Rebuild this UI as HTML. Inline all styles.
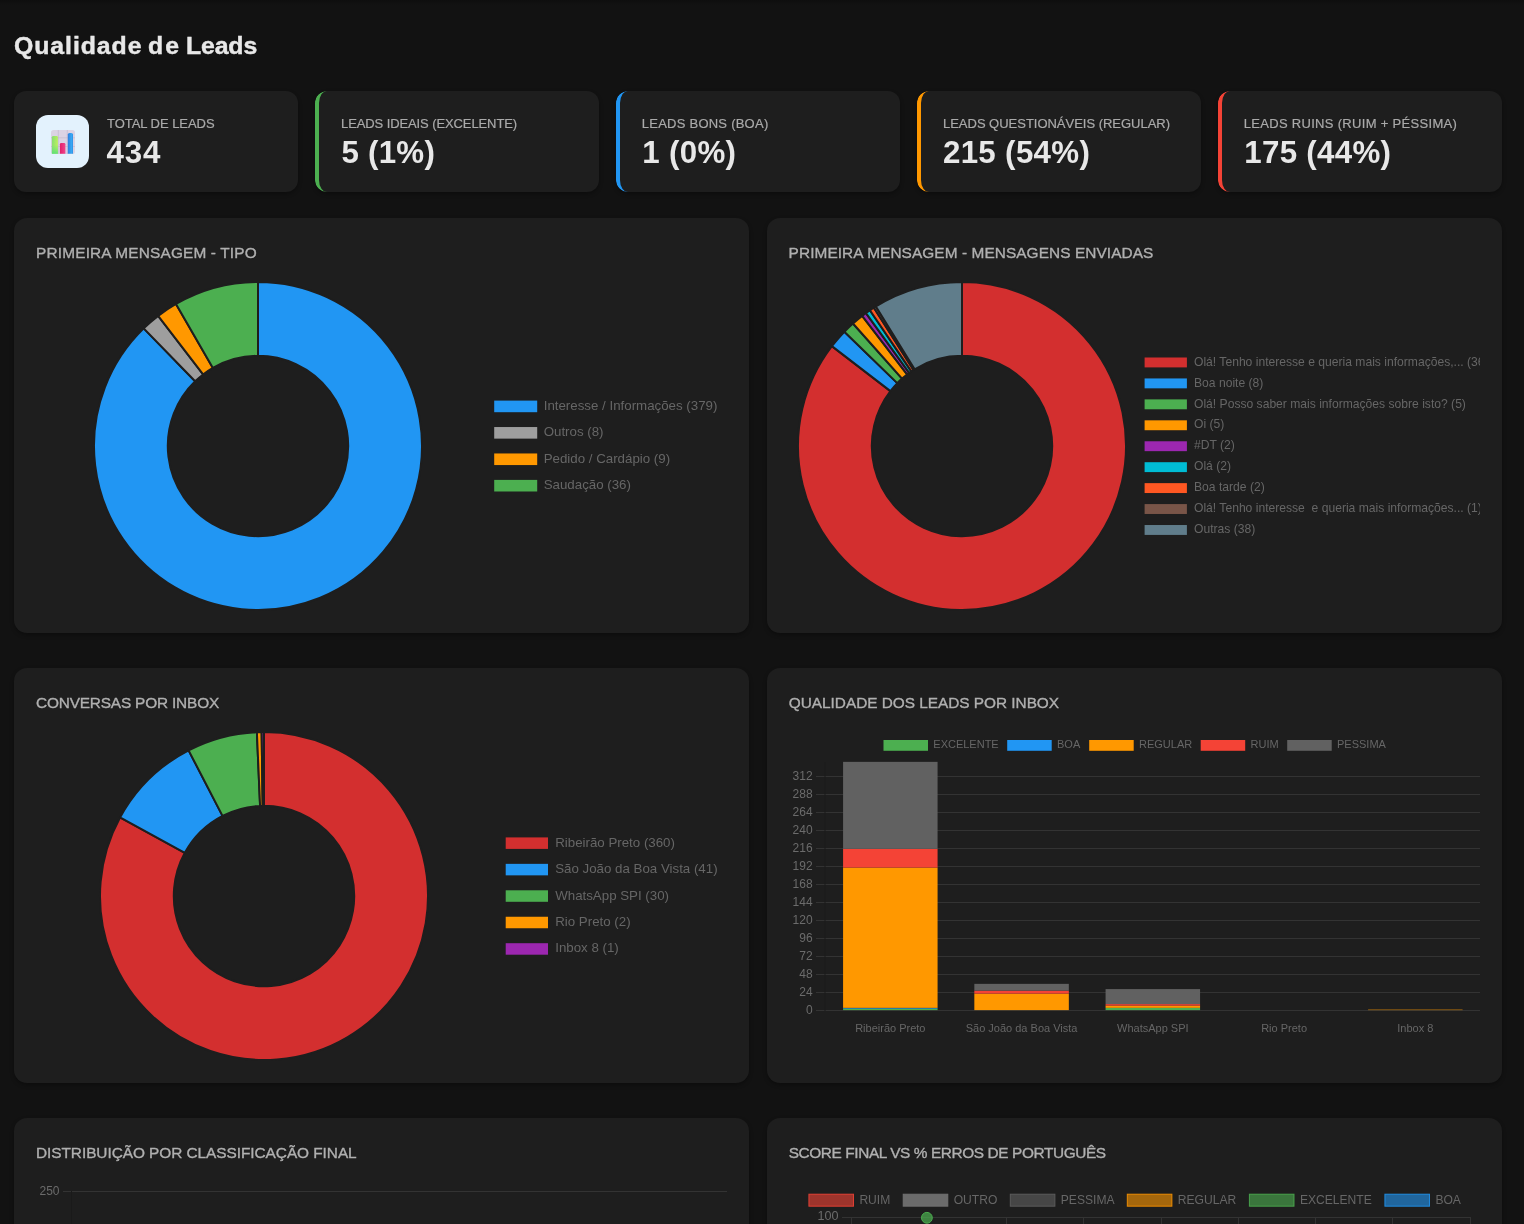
<!DOCTYPE html>
<html lang="pt-BR"><head><meta charset="utf-8"><title>Qualidade de Leads</title>
<style>
*{box-sizing:border-box}
html,body{margin:0;padding:0}
body{width:1524px;height:1224px;overflow:hidden;background:#121212;color:#e6e6e6;font-family:"Liberation Sans",sans-serif;position:relative}
.topshade{position:absolute;left:0;top:0;width:1524px;height:5px;background:linear-gradient(#0e0e0e,#121212)}
h1{position:absolute;left:0;top:35.06px;margin:0;font-size:23.2px;line-height:1;font-weight:700;color:#e8e8e8;white-space:nowrap;-webkit-text-stroke:.4px #e8e8e8}
h1 span{position:absolute;top:0;transform:scaleX(1.07);transform-origin:0 0}
.stat{position:absolute;top:91px;height:100.8px;width:283.8px;background:#1e1e1e;border-radius:12px;box-shadow:0 2px 4px rgba(0,0,0,.3);overflow:hidden}
.stat .bar{position:absolute;left:0;top:0;bottom:0;width:16px;border-left:4.2px solid;border-radius:12px 0 0 12px}
.lab{position:absolute;top:117.1px;margin:0;font-size:13px;line-height:1;color:#aaa;white-space:nowrap;-webkit-text-stroke:.2px #aaa}
.val{position:absolute;top:136.8px;margin:0;font-size:31.3px;line-height:1;font-weight:700;color:#e8e8e8;white-space:nowrap}
.ico{position:absolute;left:21.9px;top:23.6px;width:53.4px;height:53.6px;border-radius:12px;background:#e3f2fd}
.ico svg{position:absolute;left:15px;top:15.4px}
.card{position:absolute;width:735px;height:415.2px;background:#1e1e1e;border-radius:13px;box-shadow:0 2px 4px rgba(0,0,0,.3);overflow:hidden}
h3{position:absolute;margin:0;font-size:15.4px;line-height:1;font-weight:400;color:#b0b0b0;white-space:nowrap;-webkit-text-stroke:.35px #b0b0b0}
.card svg{position:absolute;left:22px;top:64.2px;font-family:"Liberation Sans",sans-serif}
</style></head><body>
<div class="topshade"></div>
<h1><span style="left:13.7px;letter-spacing:0.88px">Qualidade</span> <span style="left:147.6px;letter-spacing:2.0px">de</span> <span style="left:185.7px;letter-spacing:-0.12px">Leads</span></h1>
<div class="stat" style="left:14.1px">
<div class="ico"><svg width="24" height="24" viewBox="0 0 24 24">
<defs>
<linearGradient id="g1" x1="0" y1="0" x2="1" y2="0.25"><stop offset="0" stop-color="#86dc74"/><stop offset="1" stop-color="#b9f05e"/></linearGradient>
<linearGradient id="g1b" x1="0" y1="0" x2="0" y2="1"><stop offset="0.5" stop-color="#5fe07a" stop-opacity="0"/><stop offset="1" stop-color="#58e07a" stop-opacity=".9"/></linearGradient>
<linearGradient id="g2" x1="0" y1="0" x2="1" y2="0"><stop offset="0" stop-color="#e0206a"/><stop offset="1" stop-color="#f2458c"/></linearGradient>
<linearGradient id="g3" x1="0" y1="0" x2="1" y2="0"><stop offset="0" stop-color="#2f7fe0"/><stop offset="0.7" stop-color="#38a8f2"/><stop offset="1" stop-color="#2f8fe6"/></linearGradient>
</defs>
<rect x="0" y="0" width="24" height="24" rx="2.6" fill="#dbd3e4"/>
<path d="M7.3 0V24M16.3 0V24M0 7.8H24M0 16.5H24" stroke="#bdb2c8" stroke-width="0.55" fill="none"/>
<path d="M0.9 23.8V7.3Q0.9 5.9 2.3 5.9H5.5Q6.9 5.9 6.9 7.3V23.8Z" fill="url(#g1)"/>
<path d="M0.9 23.8V7.3Q0.9 5.9 2.3 5.9H5.5Q6.9 5.9 6.9 7.3V23.8Z" fill="url(#g1b)"/>
<path d="M8.9 23.8V14.2Q8.9 12.9 10.2 12.9H13.1Q14.4 12.9 14.4 14.2V23.8Z" fill="url(#g2)"/>
<path d="M16.8 23.8V4.6Q16.8 2.9 18.5 2.9H20.3Q22 2.9 22 4.6V23.8Z" fill="url(#g3)"/>
</svg></div>
</div>
<p class="lab" style="left:107.0px;letter-spacing:-0.04px">TOTAL DE LEADS</p><p class="val" style="left:106.4px;letter-spacing:0.86px">434</p>
<div class="stat" style="left:315.1px">
<div class="bar" style="border-color:#4caf50"></div>
</div>
<p class="lab" style="left:341.0px;letter-spacing:-0.1px">LEADS IDEAIS (EXCELENTE)</p><p class="val" style="left:341.4px;letter-spacing:0.26px">5 (1%)</p>
<div class="stat" style="left:616.1px">
<div class="bar" style="border-color:#2196f3"></div>
</div>
<p class="lab" style="left:641.8px;letter-spacing:0.24px">LEADS BONS (BOA)</p><p class="val" style="left:642.2px;letter-spacing:0.33px">1 (0%)</p>
<div class="stat" style="left:917.1px">
<div class="bar" style="border-color:#ff9800"></div>
</div>
<p class="lab" style="left:943.0px;letter-spacing:-0.02px">LEADS QUESTIONÁVEIS (REGULAR)</p><p class="val" style="left:942.9px;letter-spacing:0.33px">215 (54%)</p>
<div class="stat" style="left:1218.1px">
<div class="bar" style="border-color:#f44336"></div>
</div>
<p class="lab" style="left:1243.7px;letter-spacing:0.31px">LEADS RUINS (RUIM + PÉSSIMA)</p><p class="val" style="left:1244.3px;letter-spacing:0.29px">175 (44%)</p>
<div class="card" style="left:14px;top:217.8px">
<svg width="691" height="330" viewBox="0 0 691 330">
<path d="M222.00 0.00A164 164 0 1 1 107.73 46.36L159.15 99.30A90.2 90.2 0 1 0 222.00 73.80Z" fill="#2196f3" stroke="#1e1e1e" stroke-width="2" stroke-linejoin="bevel"/>
<path d="M107.73 46.36A164 164 0 0 1 122.16 33.89L167.09 92.44A90.2 90.2 0 0 0 159.15 99.30Z" fill="#9e9e9e" stroke="#1e1e1e" stroke-width="2" stroke-linejoin="bevel"/>
<path d="M122.16 33.89A164 164 0 0 1 140.00 21.97L176.90 85.88A90.2 90.2 0 0 0 167.09 92.44Z" fill="#ff9800" stroke="#1e1e1e" stroke-width="2" stroke-linejoin="bevel"/>
<path d="M140.00 21.97A164 164 0 0 1 222.00 0.00L222.00 73.80A90.2 90.2 0 0 0 176.90 85.88Z" fill="#4caf50" stroke="#1e1e1e" stroke-width="2" stroke-linejoin="bevel"/><rect x="458.20" y="118.60" width="43" height="11.6" fill="#2196f3"/>
<text x="507.70" y="128.10" font-size="13.3" fill="#666" xml:space="preserve">Interesse / Informações (379)</text>
<rect x="458.20" y="145.03" width="43" height="11.6" fill="#9e9e9e"/>
<text x="507.70" y="154.10" font-size="13.3" fill="#666" xml:space="preserve">Outros (8)</text>
<rect x="458.20" y="171.46" width="43" height="11.6" fill="#ff9800"/>
<text x="507.70" y="180.80" font-size="13.3" fill="#666" xml:space="preserve">Pedido / Cardápio (9)</text>
<rect x="458.20" y="197.89" width="43" height="11.6" fill="#4caf50"/>
<text x="507.70" y="207.00" font-size="13.3" fill="#666" xml:space="preserve">Saudação (36)</text>
</svg></div>
<h3 style="left:36.1px;top:244.50px;letter-spacing:0.16px">PRIMEIRA MENSAGEM - TIPO</h3>
<div class="card" style="left:767px;top:217.8px">
<svg width="691" height="330" viewBox="0 0 691 330">
<path d="M173.00 0.00A164 164 0 1 1 42.89 64.16L101.44 109.09A90.2 90.2 0 1 0 173.00 73.80Z" fill="#d32f2f" stroke="#1e1e1e" stroke-width="2" stroke-linejoin="bevel"/>
<path d="M42.89 64.16A164 164 0 0 1 55.36 49.73L108.30 101.15A90.2 90.2 0 0 0 101.44 109.09Z" fill="#2196f3" stroke="#1e1e1e" stroke-width="2" stroke-linejoin="bevel"/>
<path d="M55.36 49.73A164 164 0 0 1 63.97 41.49L113.04 96.62A90.2 90.2 0 0 0 108.30 101.15Z" fill="#4caf50" stroke="#1e1e1e" stroke-width="2" stroke-linejoin="bevel"/>
<path d="M63.97 41.49A164 164 0 0 1 73.16 33.89L118.09 92.44A90.2 90.2 0 0 0 113.04 96.62Z" fill="#ff9800" stroke="#1e1e1e" stroke-width="2" stroke-linejoin="bevel"/>
<path d="M73.16 33.89A164 164 0 0 1 76.99 31.04L120.19 90.87A90.2 90.2 0 0 0 118.09 92.44Z" fill="#9c27b0" stroke="#1e1e1e" stroke-width="2" stroke-linejoin="bevel"/>
<path d="M76.99 31.04A164 164 0 0 1 80.90 28.31L122.34 89.37A90.2 90.2 0 0 0 120.19 90.87Z" fill="#00bcd4" stroke="#1e1e1e" stroke-width="2" stroke-linejoin="bevel"/>
<path d="M80.90 28.31A164 164 0 0 1 84.88 25.68L124.54 87.93A90.2 90.2 0 0 0 122.34 89.37Z" fill="#ff5722" stroke="#1e1e1e" stroke-width="2" stroke-linejoin="bevel"/>
<path d="M84.88 25.68A164 164 0 0 1 86.90 24.42L125.65 87.23A90.2 90.2 0 0 0 124.54 87.93Z" fill="#795548" stroke="#1e1e1e" stroke-width="2" stroke-linejoin="bevel"/>
<path d="M86.90 24.42A164 164 0 0 1 173.00 0.00L173.00 73.80A90.2 90.2 0 0 0 125.65 87.23Z" fill="#607d8b" stroke="#1e1e1e" stroke-width="2" stroke-linejoin="bevel"/><rect x="355.60" y="75.50" width="42.3" height="9.9" fill="#d32f2f"/>
<text x="405.00" y="84.30" font-size="12.12" fill="#666" xml:space="preserve">Olá! Tenho interesse e queria mais informações,... (369)</text>
<rect x="355.60" y="96.44" width="42.3" height="9.9" fill="#2196f3"/>
<text x="405.00" y="105.30" font-size="12.12" fill="#666" xml:space="preserve">Boa noite (8)</text>
<rect x="355.60" y="117.38" width="42.3" height="9.9" fill="#4caf50"/>
<text x="405.00" y="126.30" font-size="12.12" fill="#666" xml:space="preserve">Olá! Posso saber mais informações sobre isto? (5)</text>
<rect x="355.60" y="138.32" width="42.3" height="9.9" fill="#ff9800"/>
<text x="405.00" y="146.30" font-size="12.12" fill="#666" xml:space="preserve">Oi (5)</text>
<rect x="355.60" y="159.26" width="42.3" height="9.9" fill="#9c27b0"/>
<text x="405.00" y="167.30" font-size="12.12" fill="#666" xml:space="preserve">#DT (2)</text>
<rect x="355.60" y="180.20" width="42.3" height="9.9" fill="#00bcd4"/>
<text x="405.00" y="188.30" font-size="12.12" fill="#666" xml:space="preserve">Olá (2)</text>
<rect x="355.60" y="201.14" width="42.3" height="9.9" fill="#ff5722"/>
<text x="405.00" y="209.30" font-size="12.12" fill="#666" xml:space="preserve">Boa tarde (2)</text>
<rect x="355.60" y="222.08" width="42.3" height="9.9" fill="#795548"/>
<text x="405.00" y="230.30" font-size="12.12" fill="#666" xml:space="preserve">Olá! Tenho interesse  e queria mais informações... (1)</text>
<rect x="355.60" y="243.02" width="42.3" height="9.9" fill="#607d8b"/>
<text x="405.00" y="251.30" font-size="12.12" fill="#666" xml:space="preserve">Outras (38)</text>
</svg></div>
<h3 style="left:788.6px;top:244.50px;letter-spacing:0.08px">PRIMEIRA MENSAGEM - MENSAGENS ENVIADAS</h3>
<div class="card" style="left:14px;top:667.8px">
<svg width="691" height="330" viewBox="0 0 691 330">
<path d="M228.00 0.00A164 164 0 1 1 84.03 85.45L148.82 120.80A90.2 90.2 0 1 0 228.00 73.80Z" fill="#d32f2f" stroke="#1e1e1e" stroke-width="2" stroke-linejoin="bevel"/>
<path d="M84.03 85.45A164 164 0 0 1 152.60 18.36L186.53 83.90A90.2 90.2 0 0 0 148.82 120.80Z" fill="#2196f3" stroke="#1e1e1e" stroke-width="2" stroke-linejoin="bevel"/>
<path d="M152.60 18.36A164 164 0 0 1 220.88 0.15L224.08 73.89A90.2 90.2 0 0 0 186.53 83.90Z" fill="#4caf50" stroke="#1e1e1e" stroke-width="2" stroke-linejoin="bevel"/>
<path d="M220.88 0.15A164 164 0 0 1 225.63 0.02L226.69 73.81A90.2 90.2 0 0 0 224.08 73.89Z" fill="#ff9800" stroke="#1e1e1e" stroke-width="2" stroke-linejoin="bevel"/>
<path d="M225.63 0.02A164 164 0 0 1 228.00 0.00L228.00 73.80A90.2 90.2 0 0 0 226.69 73.81Z" fill="#9c27b0" stroke="#1e1e1e" stroke-width="2" stroke-linejoin="bevel"/><rect x="469.70" y="105.40" width="42.3" height="11.5" fill="#d32f2f"/>
<text x="519.20" y="114.90" font-size="13.3" fill="#666" xml:space="preserve">Ribeirão Preto (360)</text>
<rect x="469.70" y="131.85" width="42.3" height="11.5" fill="#2196f3"/>
<text x="519.20" y="141.00" font-size="13.3" fill="#666" xml:space="preserve">São João da Boa Vista (41)</text>
<rect x="469.70" y="158.30" width="42.3" height="11.5" fill="#4caf50"/>
<text x="519.20" y="167.70" font-size="13.3" fill="#666" xml:space="preserve">WhatsApp SPI (30)</text>
<rect x="469.70" y="184.75" width="42.3" height="11.5" fill="#ff9800"/>
<text x="519.20" y="194.00" font-size="13.3" fill="#666" xml:space="preserve">Rio Preto (2)</text>
<rect x="469.70" y="211.20" width="42.3" height="11.5" fill="#9c27b0"/>
<text x="519.20" y="220.20" font-size="13.3" fill="#666" xml:space="preserve">Inbox 8 (1)</text>
</svg></div>
<h3 style="left:36.0px;top:694.50px;letter-spacing:-0.18px">CONVERSAS POR INBOX</h3>
<div class="card" style="left:767px;top:667.8px">
<svg width="691" height="330" viewBox="0 0 691 330">
<rect x="94.5" y="8" width="44.5" height="10.8" fill="#4caf50"/>
<text x="144.3" y="16.299999999999955" font-size="11" fill="#666">EXCELENTE</text>
<rect x="218.20000000000005" y="8" width="44.5" height="10.8" fill="#2196f3"/>
<text x="268.00000000000006" y="16.299999999999955" font-size="11" fill="#666">BOA</text>
<rect x="300.20000000000005" y="8" width="44.5" height="10.8" fill="#ff9800"/>
<text x="350.00000000000006" y="16.299999999999955" font-size="11" fill="#666">REGULAR</text>
<rect x="411.70000000000005" y="8" width="44.5" height="10.8" fill="#f44336"/>
<text x="461.50000000000006" y="16.299999999999955" font-size="11" fill="#666">RUIM</text>
<rect x="498.20000000000005" y="8" width="44.5" height="10.8" fill="#616161"/>
<text x="548.0" y="16.299999999999955" font-size="11" fill="#666">PESSIMA</text>
<rect x="27" y="278.00" width="664" height="1" fill="#333"/>
<text x="23.600000000000023" y="282.10" font-size="12" fill="#6b6b6b" text-anchor="end">0</text>
<rect x="27" y="260.00" width="664" height="1" fill="#333"/>
<text x="23.600000000000023" y="264.10" font-size="12" fill="#6b6b6b" text-anchor="end">24</text>
<rect x="27" y="242.00" width="664" height="1" fill="#333"/>
<text x="23.600000000000023" y="246.10" font-size="12" fill="#6b6b6b" text-anchor="end">48</text>
<rect x="27" y="224.00" width="664" height="1" fill="#333"/>
<text x="23.600000000000023" y="228.10" font-size="12" fill="#6b6b6b" text-anchor="end">72</text>
<rect x="27" y="206.00" width="664" height="1" fill="#333"/>
<text x="23.600000000000023" y="210.10" font-size="12" fill="#6b6b6b" text-anchor="end">96</text>
<rect x="27" y="188.00" width="664" height="1" fill="#333"/>
<text x="23.600000000000023" y="192.10" font-size="12" fill="#6b6b6b" text-anchor="end">120</text>
<rect x="27" y="170.00" width="664" height="1" fill="#333"/>
<text x="23.600000000000023" y="174.10" font-size="12" fill="#6b6b6b" text-anchor="end">144</text>
<rect x="27" y="152.00" width="664" height="1" fill="#333"/>
<text x="23.600000000000023" y="156.10" font-size="12" fill="#6b6b6b" text-anchor="end">168</text>
<rect x="27" y="134.00" width="664" height="1" fill="#333"/>
<text x="23.600000000000023" y="138.10" font-size="12" fill="#6b6b6b" text-anchor="end">192</text>
<rect x="27" y="116.00" width="664" height="1" fill="#333"/>
<text x="23.600000000000023" y="120.10" font-size="12" fill="#6b6b6b" text-anchor="end">216</text>
<rect x="27" y="98.00" width="664" height="1" fill="#333"/>
<text x="23.600000000000023" y="102.10" font-size="12" fill="#6b6b6b" text-anchor="end">240</text>
<rect x="27" y="80.00" width="664" height="1" fill="#333"/>
<text x="23.600000000000023" y="84.10" font-size="12" fill="#6b6b6b" text-anchor="end">264</text>
<rect x="27" y="62.00" width="664" height="1" fill="#333"/>
<text x="23.600000000000023" y="66.10" font-size="12" fill="#6b6b6b" text-anchor="end">288</text>
<rect x="27" y="44.00" width="664" height="1" fill="#333"/>
<text x="23.600000000000023" y="48.10" font-size="12" fill="#6b6b6b" text-anchor="end">312</text>
<rect x="35.5" y="30" width="1" height="249.0" fill="#1a1a1a"/>
<rect x="54.08" y="276.60" width="94.50" height="1.50" fill="#4caf50"/>
<rect x="54.08" y="275.85" width="94.50" height="0.75" fill="#2196f3"/>
<rect x="54.08" y="135.60" width="94.50" height="140.25" fill="#ff9800"/>
<rect x="54.08" y="116.85" width="94.50" height="18.75" fill="#f44336"/>
<rect x="54.08" y="29.85" width="94.50" height="87.00" fill="#616161"/>
<text x="101.33" y="300.0999999999999" font-size="11" fill="#666" text-anchor="middle">Ribeirão Preto</text>
<rect x="185.33" y="261.60" width="94.50" height="16.50" fill="#ff9800"/>
<rect x="185.33" y="258.60" width="94.50" height="3.00" fill="#f44336"/>
<rect x="185.33" y="251.85" width="94.50" height="6.75" fill="#616161"/>
<text x="232.58" y="300.0999999999999" font-size="11" fill="#666" text-anchor="middle">São João da Boa Vista</text>
<rect x="316.58" y="275.85" width="94.50" height="2.25" fill="#4caf50"/>
<rect x="316.58" y="273.60" width="94.50" height="2.25" fill="#ff9800"/>
<rect x="316.58" y="272.10" width="94.50" height="1.50" fill="#f44336"/>
<rect x="316.58" y="257.10" width="94.50" height="15.00" fill="#616161"/>
<text x="363.83" y="300.0999999999999" font-size="11" fill="#666" text-anchor="middle">WhatsApp SPI</text>
<text x="495.08" y="300.0999999999999" font-size="11" fill="#666" text-anchor="middle">Rio Preto</text>
<rect x="579.08" y="277.65" width="94.50" height="0.45" fill="#ff9800"/>
<text x="626.33" y="300.0999999999999" font-size="11" fill="#666" text-anchor="middle">Inbox 8</text>
</svg></div>
<h3 style="left:788.8px;top:694.50px;letter-spacing:-0.03px">QUALIDADE DOS LEADS POR INBOX</h3>
<div class="card" style="left:14px;top:1117.8px">
<svg width="691" height="330" viewBox="0 0 691 330">
<rect x="27" y="9" width="664" height="1" fill="#333"/>
<rect x="35" y="9" width="1" height="40" fill="#1a1a1a"/>
<text x="23.5" y="13" font-size="12" fill="#6b6b6b" text-anchor="end">250</text>
</svg></div>
<h3 style="left:36.0px;top:1144.50px;letter-spacing:-0.05px">DISTRIBUIÇÃO POR CLASSIFICAÇÃO FINAL</h3>
<div class="card" style="left:767px;top:1117.8px">
<svg width="691" height="330" viewBox="0 0 691 330">
<rect x="19.90" y="12.20" width="44.6" height="12" fill="#f44336" fill-opacity="0.6" stroke="#f44336" stroke-opacity="0.85" stroke-width="1"/>
<text x="70.40" y="22.30" font-size="12.1" fill="#666">RUIM</text>
<rect x="114.20" y="12.20" width="44.6" height="12" fill="#9e9e9e" fill-opacity="0.6" stroke="#767676" stroke-opacity="0.85" stroke-width="1"/>
<text x="164.70" y="22.30" font-size="12.1" fill="#666">OUTRO</text>
<rect x="221.30" y="12.20" width="44.6" height="12" fill="#616161" fill-opacity="0.6" stroke="#616161" stroke-opacity="0.85" stroke-width="1"/>
<text x="271.80" y="22.30" font-size="12.1" fill="#666">PESSIMA</text>
<rect x="338.30" y="12.20" width="44.6" height="12" fill="#ff9800" fill-opacity="0.6" stroke="#ff9800" stroke-opacity="0.85" stroke-width="1"/>
<text x="388.80" y="22.30" font-size="12.1" fill="#666">REGULAR</text>
<rect x="460.40" y="12.20" width="44.6" height="12" fill="#4caf50" fill-opacity="0.6" stroke="#4caf50" stroke-opacity="0.85" stroke-width="1"/>
<text x="510.90" y="22.30" font-size="12.1" fill="#666">EXCELENTE</text>
<rect x="595.90" y="12.20" width="44.6" height="12" fill="#2196f3" fill-opacity="0.6" stroke="#2196f3" stroke-opacity="0.85" stroke-width="1"/>
<text x="646.40" y="22.30" font-size="12.1" fill="#666">BOA</text>
<rect x="53" y="35" width="628.5" height="1" fill="#333"/>
<rect x="62" y="35" width="1" height="10" fill="#333"/>
<rect x="217" y="35" width="1" height="10" fill="#333"/>
<rect x="294" y="35" width="1" height="10" fill="#333"/>
<rect x="372" y="35" width="1" height="10" fill="#333"/>
<rect x="449" y="35" width="1" height="10" fill="#333"/>
<rect x="526" y="35" width="1" height="10" fill="#333"/>
<rect x="603" y="35" width="1" height="10" fill="#333"/>
<rect x="681" y="35" width="1" height="10" fill="#333"/>
<text x="49.5" y="38.40000000000009" font-size="12.6" fill="#6b6b6b" text-anchor="end">100</text>
<circle cx="137.90" cy="35.80" r="5.4" fill="#4caf50" fill-opacity="0.7" stroke="#4caf50" stroke-width="1"/>
</svg></div>
<h3 style="left:788.7px;top:1144.50px;letter-spacing:-0.4px">SCORE FINAL VS % ERROS DE PORTUGUÊS</h3>
</body></html>
